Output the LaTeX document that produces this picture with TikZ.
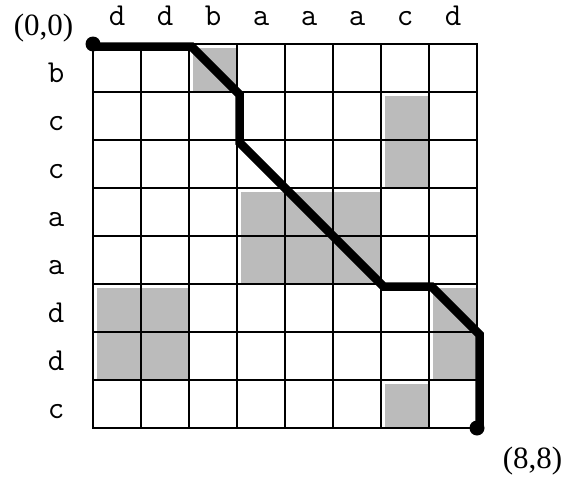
\documentclass[tikz,border=0pt]{standalone}
\usepackage{fontspec}
\setmainfont{Liberation Serif}
\definecolor{matchgray}{RGB}{187,187,187}
\begin{document}
\begin{tikzpicture}[x=1pt,y=-1pt,
  gridline/.style={line width=2.6pt, black, line cap=rect},
  matchcell/.style={fill=matchgray, draw=none},
  pathline/.style={line width=8.5pt, black, line join=miter},
  enddot/.style={circle, fill=black, inner sep=0pt, minimum size=15pt},
  seqlabel/.style={font=\ttfamily\fontsize{32}{32}\selectfont, anchor=base, inner sep=0pt},
  cornerlabel/.style={font=\fontsize{31}{31}\selectfont, anchor=base, inner sep=0pt}]
\useasboundingbox (0,0) rectangle (566,477);
\begin{scope}[xshift=93pt, yshift=-44pt, x=48pt, y=-48pt]
  % matching cells
  \foreach \xa/\ya/\xb/\yb in {2/0/3/1, 6/1/7/3, 3/3/6/5, 0/5/2/7, 7/5/8/7, 6/7/7/8}
    \fill[matchcell] ([xshift=3.5pt,yshift=-3.5pt]\xa,\ya) rectangle (\xb,\yb);
  % grid
  \foreach \i in {0,...,8} {
    \draw[gridline] (\i,0) -- (\i,8);
    \draw[gridline] (0,\i) -- (8,\i);
  }
  % path
  \begin{scope}[xshift=2.5pt, yshift=-2.5pt]
    \coordinate (p0) at (0,0);
    \coordinate (p1) at (2,0);
    \coordinate (p2) at (3,1);
    \coordinate (p3) at (3,2);
    \coordinate (p4) at (6,5);
    \coordinate (p5) at (7,5);
    \coordinate (p6) at (8,6);
    \coordinate (p7) at (8,8);
    \draw[pathline] (p0) -- (p1) -- (p2) -- (p3) -- (p4) -- (p5) -- (p6) -- (p7);
  \end{scope}
  \node[enddot] (start) at (0,0) {};
  \node[enddot] (end) at (8,8) {};
\end{scope}
% sequence labels
\foreach \c [count=\i from 0] in {d,d,b,a,a,a,c,d}
  \node[seqlabel] (top\i) at (117+48*\i, 25) {\c};
\foreach \c [count=\i from 0] in {b,c,c,a,a,d,d,c}
  \node[seqlabel] (left\i) at (56, 82+48*\i) {\c};
\node[cornerlabel] (origin) at (43.5,35) {(0,0)};
\node[cornerlabel] (final) at (532.5,468) {(8,8)};
\end{tikzpicture}
\end{document}
